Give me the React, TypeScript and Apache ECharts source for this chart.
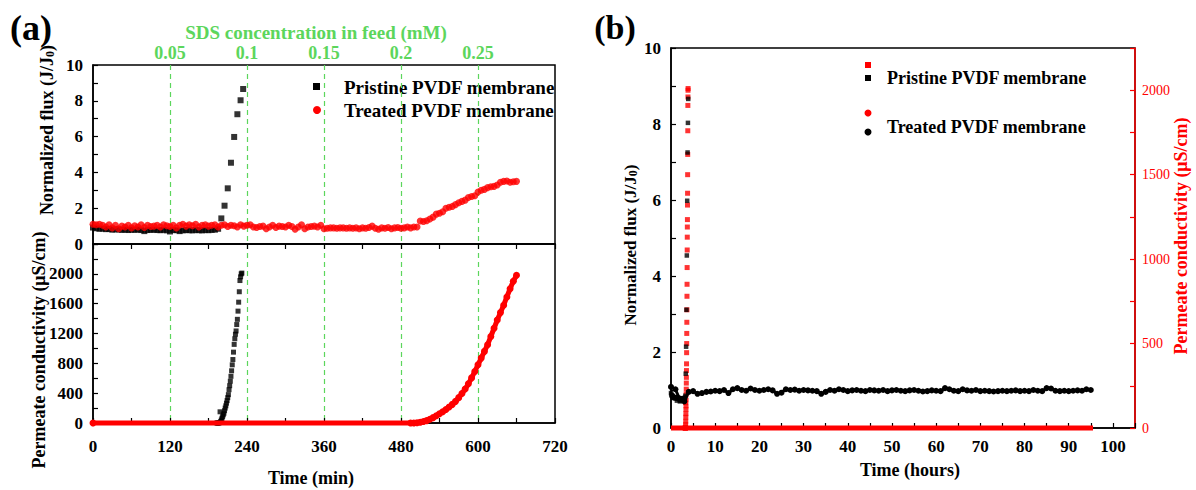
import React, { useEffect, useRef } from "react";
import * as echarts from "echarts";

const FONT = "'Liberation Serif', 'Times New Roman', serif";

// ---------- Panel (a): time in minutes ----------
const timeMaxMin = 720;
const sdsTickLabels = [0.05, 0.1, 0.15, 0.2, 0.25];

// Pristine flux, steady part, t = 0..195 min every 5 min
const pristineFluxSteadyA = [
  0.92, 0.88, 0.85, 0.86, 0.83, 0.84, 0.8, 0.82, 0.81, 0.79,
  0.8, 0.78, 0.8, 0.79, 0.81, 0.78, 0.72, 0.78, 0.79, 0.8,
  0.78, 0.77, 0.79, 0.76, 0.7, 0.78, 0.77, 0.72, 0.76, 0.78,
  0.77, 0.76, 0.78, 0.77, 0.76, 0.78, 0.77, 0.79, 0.8, 0.85,
];
// Pristine flux, rising part [min, J/J0]
const pristineFluxRiseA = [
  [200, 1.43], [205, 2.14], [210, 3.11], [215, 4.54],
  [220, 5.98], [225, 7.25], [230, 8.03], [234, 8.66],
];
// Treated flux, t = 0..660 min every 5 min
const treatedFluxA = [
  1.1, 1.08, 1.1, 1.05, 0.95, 1.08, 0.9, 1.05, 0.85, 1.0, 0.95,
  1.05, 0.9, 1.02, 0.95, 1.08, 0.92, 1.05, 0.98, 1.0, 1.05,
  0.95, 1.08, 1.02, 0.98, 1.05, 0.9, 1.05, 1.1, 1.0, 1.08,
  1.02, 1.1, 0.95, 1.05, 1.08, 1.0, 1.05, 1.08, 0.95, 1.05,
  1.08, 0.98, 1.05, 1.02, 0.95, 1.08, 1.0, 1.05, 1.08, 0.95,
  0.92, 0.98, 1.0, 0.85, 0.95, 1.05, 0.92, 1.0, 0.98, 0.95,
  1.05, 0.98, 0.82, 0.95, 1.08, 0.85, 0.95, 0.98, 1.0, 0.95,
  1.05, 0.85, 0.88, 0.9, 0.9, 0.88, 0.9, 0.9, 0.88, 0.9,
  0.88, 0.9, 0.85, 0.9, 0.88, 0.92, 1.0, 0.88, 0.82, 0.9,
  0.88, 0.92, 0.85, 0.9, 0.92, 0.88, 0.9, 0.95, 0.9, 0.95,
  0.95, 1.28, 1.26, 1.3, 1.4, 1.5, 1.67, 1.72, 1.8, 2.0,
  2.05, 2.1, 2.2, 2.3, 2.38, 2.45, 2.6, 2.65, 2.7, 2.9,
  3.0, 3.05, 3.15, 3.2, 3.22, 3.3, 3.45, 3.5, 3.52, 3.45,
  3.48, 3.5,
];
// Pristine permeate conductivity [min, µS/cm]
const pristineCondA = [
  [193, 0], [194, 0], [195, 0], [196, 0], [197, 5], [198, 150], [199, 20],
  [200, 40], [201, 64], [202, 85], [203, 110], [204, 131], [205, 165],
  [206, 200], [207, 230], [208, 266], [209, 300], [210, 340], [211, 380],
  [212, 446], [213, 500], [214, 560], [215, 626], [216, 700], [217, 780],
  [218, 851], [219, 950], [220, 1054], [221, 1130], [222, 1190], [223, 1234],
  [224, 1320], [225, 1390], [226, 1500], [227, 1620], [228, 1760], [229, 1910],
  [230, 1960], [231, 2000], [232, 2010],
];
// Treated permeate conductivity [min, µS/cm]
const treatedCondA = [
  [0, 0], [495, 0], [500, 0], [505, 3], [510, 10], [515, 20], [520, 32],
  [525, 50], [530, 72], [535, 98], [540, 125], [545, 150], [550, 180],
  [555, 215], [560, 250], [565, 290], [570, 340], [575, 395], [580, 455],
  [585, 525], [590, 605], [595, 690], [600, 780], [605, 870], [610, 960],
  [615, 1050], [620, 1160], [625, 1270], [630, 1380], [635, 1480], [640, 1580],
  [645, 1690], [650, 1800], [655, 1900], [660, 1980],
];

// ---------- Panel (b): time in hours ----------
// Treated flux, t = 0..95 h every 1 h
const treatedFluxB = [
  1.08, 1.02, 0.75, 0.7, 0.95, 0.97, 0.9, 0.92, 0.95, 0.96,
  0.98, 0.97, 1.0, 0.92, 1.02, 1.05, 1.0, 0.98, 1.04, 1.0,
  0.98, 1.0, 1.02, 0.99, 0.9, 0.93, 1.02, 1.0, 1.01, 0.98,
  1.0, 0.99, 0.98, 0.97, 0.9, 0.95, 1.0, 0.98, 1.02, 1.0,
  0.97, 0.99, 1.0, 0.98, 0.97, 1.0, 0.99, 0.98, 1.0, 0.97,
  0.99, 1.0, 0.98, 0.97, 0.99, 1.0, 0.98, 0.96, 0.97, 0.99,
  0.98, 0.97, 1.05, 1.02, 0.98, 0.97, 1.02, 0.99, 0.98, 1.0,
  0.97, 0.98, 0.97, 0.96, 0.97, 0.98, 0.97, 0.98, 0.99, 0.97,
  0.98, 0.97, 1.0, 0.98, 0.97, 1.05, 1.04, 0.98, 0.97, 0.98,
  0.97, 0.98, 0.99, 0.98, 1.02, 1.0,
];
const treatedCondB = [[0, 0], [95.5, 0]];

const pristineFluxA = pristineFluxSteadyA
  .map((v, i) => [i * 5, v])
  .concat(pristineFluxRiseA);
const treatedFluxAData = treatedFluxA.map((v, i) => [i * 5, v]);
const pristineFluxB = pristineFluxA.map(([t, v]) => [t / 60, v]);
const pristineCondB = pristineCondA.map(([t, v]) => [t / 60, v]);
const treatedFluxBData = treatedFluxB.map((v, i) => [i, v]);

const GREEN = "#5cd65c";
const RED = "#ff0000";

const lbl = (extra: any = {}) => ({
  fontFamily: FONT,
  fontWeight: "bold",
  fontSize: 17,
  color: "#000",
  ...extra,
});
const axLine = (color = "#000") => ({
  show: true,
  onZero: false,
  lineStyle: { color, width: 1.5 },
});
const tickIn = (color = "#000") => ({
  show: true,
  inside: true,
  length: 5,
  lineStyle: { color, width: 1.2 },
});
const minor = (color = "#000") => ({
  show: true,
  splitNumber: 2,
  length: 5,
  lineStyle: { color, width: 1.2 },
});
const greenSplit = {
  show: true,
  showMinLine: false,
  showMaxLine: false,
  lineStyle: { color: GREEN, type: [5, 4], width: 1.2 },
};

const txt = (x: number, y: number, text: string, o: any = {}) => ({
  type: "text",
  x,
  y,
  rotation: o.rotation || 0,
  silent: true,
  style: {
    text,
    fill: o.fill || "#000",
    fontFamily: FONT,
    fontWeight: o.fontWeight || "bold",
    fontSize: o.fontSize || 18,
    align: o.align || "center",
    textAlign: o.align || "center",
    verticalAlign: "middle",
    textVerticalAlign: "middle",
    rich: {
      s: {
        fontFamily: FONT,
        fontWeight: "bold",
        fontSize: 12,
        verticalAlign: "bottom",
        lineHeight: 10,
        fill: o.fill || "#000",
      },
    },
  },
});

export default function App() {
  const ref = useRef<HTMLDivElement>(null);
  useEffect(() => {
    document.body.style.margin = "0";
    const chart = echarts.init(ref.current!, undefined, { renderer: "svg" });
    const option: any = {
      animation: false,
      backgroundColor: "#fff",
      grid: [
        { left: 93, top: 65, width: 462, height: 179, show: true, borderColor: "#000", borderWidth: 1.5 },
        { left: 93, top: 244, width: 462, height: 179, show: true, borderColor: "#000", borderWidth: 1.5 },
        { left: 671, top: 48, width: 464, height: 380, show: true, borderColor: "#000", borderWidth: 1.5 },
      ],
      xAxis: [
        {
          gridIndex: 0, type: "value", position: "bottom", min: 0, max: timeMaxMin, interval: 120,
          axisLine: axLine(), axisTick: { show: true, inside: false, length: 5, lineStyle: { color: "#000", width: 1.2 } },
          minorTick: minor(), axisLabel: { show: false }, splitLine: greenSplit,
        },
        {
          gridIndex: 1, type: "value", position: "bottom", min: 0, max: timeMaxMin, interval: 120,
          axisLine: axLine(), axisTick: tickIn(), minorTick: minor(),
          axisLabel: lbl({ margin: 15 }), splitLine: greenSplit,
        },
        {
          gridIndex: 0, type: "value", position: "top", min: 0, max: 0.3, interval: 0.05,
          axisLine: { show: false }, axisTick: { show: false }, splitLine: { show: false },
          axisLabel: lbl({
            color: GREEN, fontSize: 18, margin: 3,
            formatter: (v: number) => {
              const r = Math.round(v * 100) / 100;
              return sdsTickLabels.includes(r) ? String(r) : "";
            },
          }),
        },
        {
          gridIndex: 2, type: "value", position: "bottom", min: 0, max: 105, interval: 5,
          axisLine: axLine(), axisTick: tickIn(),
          axisLabel: lbl({ margin: 10, formatter: (v: number) => (v % 10 === 0 && v <= 100 ? String(v) : "") }),
          splitLine: { show: false },
        },
      ],
      yAxis: [
        {
          gridIndex: 0, type: "value", min: 0, max: 10, interval: 2,
          axisLine: axLine(), axisTick: tickIn(), minorTick: minor(),
          axisLabel: lbl({ margin: 10 }), splitLine: { show: false },
        },
        {
          gridIndex: 1, type: "value", min: 0, max: 2400, interval: 400,
          axisLine: axLine(), axisTick: tickIn(), minorTick: minor(),
          axisLabel: lbl({ margin: 10, formatter: (v: number) => (v >= 2400 ? "" : String(v)) }),
          splitLine: { show: false },
        },
        {
          gridIndex: 2, type: "value", position: "left", min: 0, max: 10, interval: 1,
          axisLine: axLine(), axisTick: tickIn(),
          axisLabel: lbl({ margin: 10, formatter: (v: number) => (v % 2 === 0 ? String(v) : "") }),
          splitLine: { show: false },
        },
        {
          gridIndex: 2, type: "value", position: "right", min: 0, max: 2250, interval: 250,
          axisLine: axLine(RED), axisTick: tickIn(RED),
          axisLabel: {
            fontFamily: FONT, fontSize: 14, color: RED, margin: 7,
            formatter: (v: number) => (v % 500 === 0 && v <= 2000 ? String(v) : ""),
          },
          splitLine: { show: false },
        },
      ],
      series: [
        {
          name: "Pristine flux (a)", type: "scatter", xAxisIndex: 0, yAxisIndex: 0,
          data: pristineFluxA, symbol: "rect", symbolSize: 6, itemStyle: { color: "#000" },
        },
        {
          name: "Treated flux (a)", type: "scatter", xAxisIndex: 0, yAxisIndex: 0,
          data: treatedFluxAData, symbol: "circle", symbolSize: 7, itemStyle: { color: RED },
        },
        {
          name: "Pristine conductivity (a)", type: "scatter", xAxisIndex: 1, yAxisIndex: 1,
          data: pristineCondA, symbol: "rect", symbolSize: 5, itemStyle: { color: "#000" },
        },
        {
          name: "Treated conductivity (a)", type: "line", xAxisIndex: 1, yAxisIndex: 1,
          data: treatedCondA, symbol: "circle", symbolSize: 7, showSymbol: true, clip: false,
          lineStyle: { color: RED, width: 5 }, itemStyle: { color: RED },
        },
        {
          name: "Treated conductivity (b)", type: "line", xAxisIndex: 3, yAxisIndex: 3,
          data: treatedCondB, symbol: "none", clip: false,
          lineStyle: { color: RED, width: 5 },
        },
        {
          name: "Pristine conductivity (b)", type: "scatter", xAxisIndex: 3, yAxisIndex: 3,
          data: pristineCondB, symbol: "rect", symbolSize: 5, itemStyle: { color: RED },
        },
        {
          name: "Treated flux (b)", type: "line", xAxisIndex: 3, yAxisIndex: 2,
          data: treatedFluxBData, symbol: "circle", symbolSize: 6, showSymbol: true,
          lineStyle: { color: "#000", width: 3 }, itemStyle: { color: "#000" },
        },
        {
          name: "Pristine flux (b)", type: "scatter", xAxisIndex: 3, yAxisIndex: 2,
          data: pristineFluxB, symbol: "rect", symbolSize: 4.5, itemStyle: { color: "#000" },
        },
      ],
      graphic: [
        txt(31, 28, "(a)", { fontSize: 36 }),
        txt(615, 27, "(b)", { fontSize: 34 }),
        txt(316, 32, "SDS concentration in feed (mM)", { fill: GREEN, fontSize: 19 }),
        txt(47, 130, "Normalized flux (J/J{s|0})", { rotation: Math.PI / 2 }),
        txt(39, 350, "Permeate conductivity (μS/cm)", { rotation: Math.PI / 2 }),
        txt(311, 478, "Time (min)"),
        txt(630, 245, "Normalized flux (J/J{s|0})", { rotation: Math.PI / 2, fontSize: 17 }),
        txt(1181, 236, "Permeate conductivity (μS/cm)", { rotation: Math.PI / 2, fill: RED }),
        txt(910, 470, "Time (hours)"),
        // legend (a)
        { type: "rect", silent: true, shape: { x: 313, y: 83, width: 7, height: 7 }, style: { fill: "#000" } },
        txt(344, 87, "Pristine PVDF membrane", { align: "left", fontSize: 19 }),
        { type: "circle", silent: true, shape: { cx: 317, cy: 110, r: 4 }, style: { fill: RED } },
        txt(344, 110, "Treated PVDF membrane", { align: "left", fontSize: 19 }),
        // legend (b)
        { type: "rect", silent: true, shape: { x: 865, y: 62, width: 6, height: 6 }, style: { fill: RED } },
        { type: "rect", silent: true, shape: { x: 865, y: 75, width: 6, height: 6 }, style: { fill: "#000" } },
        txt(887, 78, "Pristine PVDF membrane", { align: "left" }),
        { type: "circle", silent: true, shape: { cx: 868, cy: 113, r: 3.5 }, style: { fill: RED } },
        { type: "circle", silent: true, shape: { cx: 868, cy: 132, r: 3.5 }, style: { fill: "#000" } },
        txt(887, 127, "Treated PVDF membrane", { align: "left" }),
      ],
    };
    chart.setOption(option);
    return () => chart.dispose();
  }, []);
  return <div ref={ref} style={{ width: 1196, height: 490 }} />;
}
